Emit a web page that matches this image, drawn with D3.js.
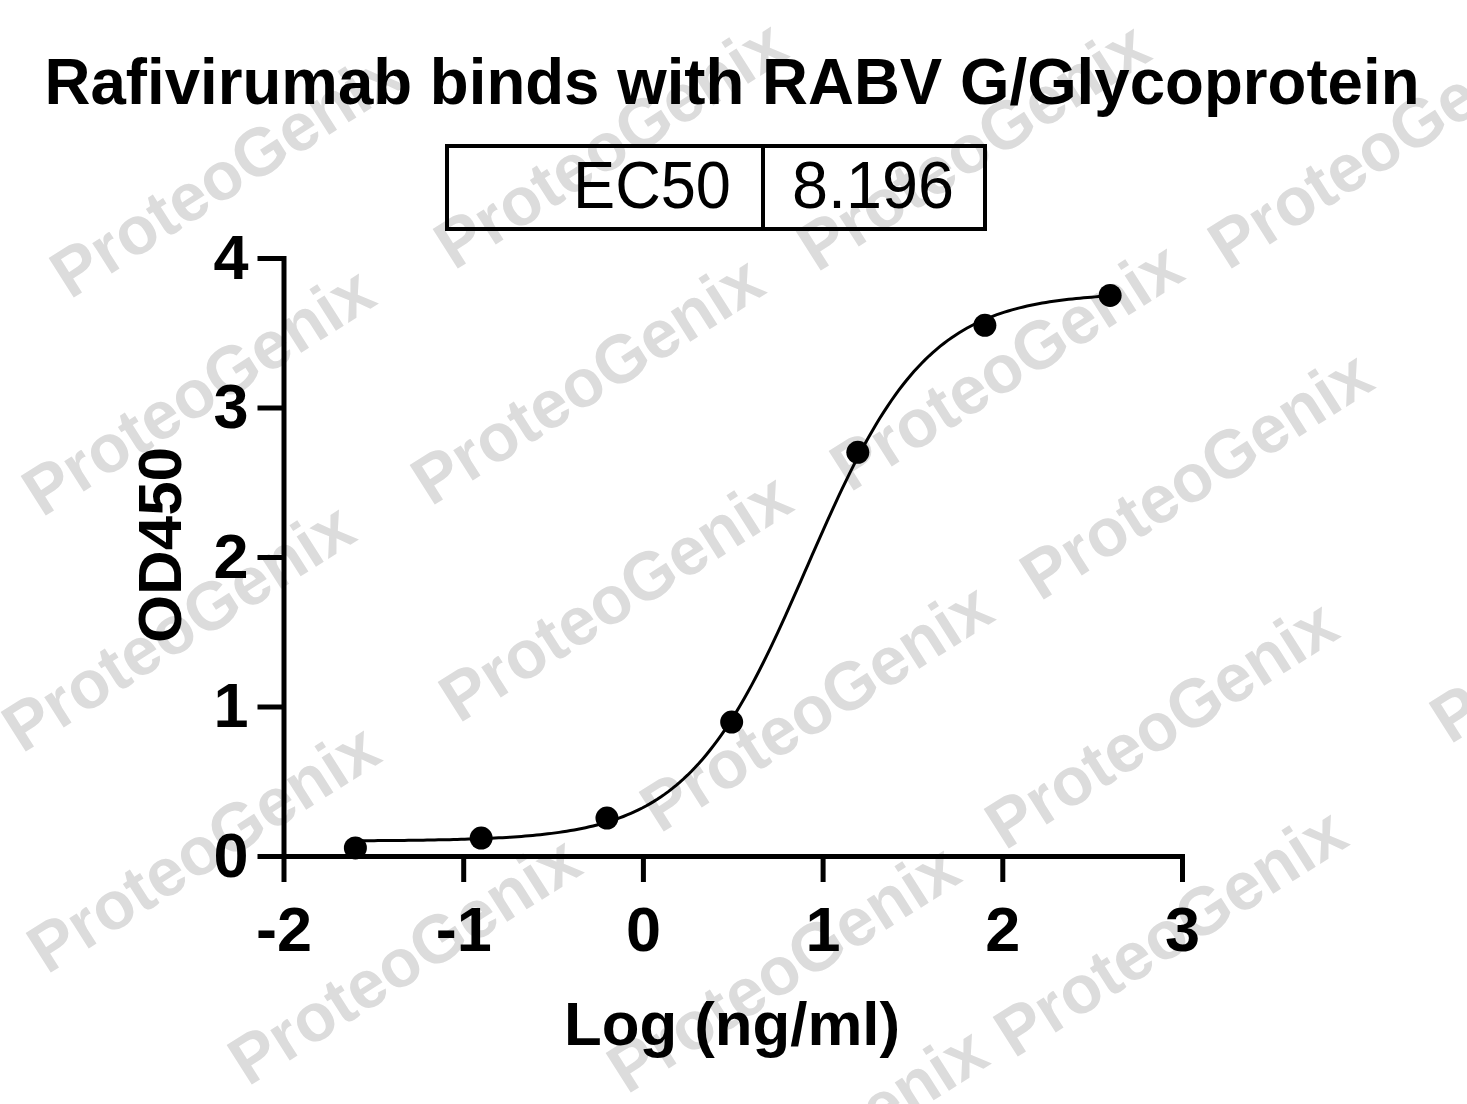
<!DOCTYPE html>
<html>
<head>
<meta charset="utf-8">
<script src="https://cdn.jsdelivr.net/npm/d3@7"></script>
<style>
  html, body { margin: 0; padding: 0; background: #fff; }
  svg { display: block; }
  text { font-family: "Liberation Sans", Arial, sans-serif; }
</style>
</head>
<body>
<svg id="chart" width="1467" height="1104"></svg>
<script>
// measured data: log10 concentration (ng/ml) vs OD450
var logConc = [-1.6, -0.9, -0.2, 0.494, 1.196, 1.903, 2.6];
var od450 = [0.054, 0.12, 0.254, 0.896, 2.70, 3.55, 3.75];

// fitted 4PL curve
var ec50 = 8.196;
var fitBottom = 0.10;
var fitTop = 3.77;
var fitHill = 1.3;

var xTicks = [-2, -1, 0, 1, 2, 3];
var yTicks = [0, 1, 2, 3, 4];

var title = "Rafivirumab binds with RABV G/Glycoprotein";
var xLabel = "Log (ng/ml)";
var yLabel = "OD450";
var tableCells = ["EC50", ec50.toFixed(3)];

// watermark anchors (start of each "ProteoGenix")
var watermarks = [
  [70, 300], [454, 271], [817, 273], [1228, 271],
  [42, 518], [431, 507], [850, 493], [1040, 602],
  [22, 754], [459, 724], [660, 834], [1005, 851], [1450, 745],
  [47, 975], [248, 1087], [627, 1095], [1014, 1059], [655, 1278]
];

var svg = d3.select("#chart");

svg.append("rect").attr("width", 1467).attr("height", 1104).attr("fill", "#fff");

// watermark layer
var wm = svg.append("g");
wm.selectAll("text")
  .data(watermarks)
  .enter().append("text")
    .attr("transform", function(d) { return "translate(" + d[0] + "," + d[1] + ") rotate(-32.5)"; })
    .attr("font-family", "'Open Sans', 'DejaVu Sans', sans-serif")
    .attr("font-weight", 700)
    .attr("font-size", 68)
    .attr("textLength", 400)
    .attr("lengthAdjust", "spacingAndGlyphs")
    .attr("fill", "#dcdcdc")
    .text("ProteoGenix");

var x = d3.scaleLinear().domain([-2, 3]).range([283.5, 1182]);
var y = d3.scaleLinear().domain([0, 4]).range([856, 258]);

// title
svg.append("text")
  .attr("x", 732).attr("y", 104)
  .attr("text-anchor", "middle")
  .attr("font-weight", "bold")
  .attr("font-size", 65)
  .attr("textLength", 1375)
  .attr("lengthAdjust", "spacingAndGlyphs")
  .text(title);

// EC50 table
var tbl = svg.append("g");
tbl.append("rect")
  .attr("x", 447).attr("y", 146).attr("width", 538).attr("height", 83)
  .attr("fill", "none").attr("stroke", "#000").attr("stroke-width", 4);
tbl.append("line")
  .attr("x1", 763).attr("x2", 763).attr("y1", 146).attr("y2", 229)
  .attr("stroke", "#000").attr("stroke-width", 4);
tbl.append("text")
  .attr("x", 731).attr("y", 208)
  .attr("text-anchor", "end")
  .attr("font-size", 67)
  .attr("textLength", 158)
  .attr("lengthAdjust", "spacingAndGlyphs")
  .text(tableCells[0]);
tbl.append("text")
  .attr("x", 873).attr("y", 208)
  .attr("text-anchor", "middle")
  .attr("font-size", 67)
  .attr("textLength", 162)
  .attr("lengthAdjust", "spacingAndGlyphs")
  .text(tableCells[1]);

// axes
var xAxis = svg.append("g")
  .attr("transform", "translate(0," + y(0) + ")")
  .call(d3.axisBottom(x).tickValues(xTicks).tickSize(26).tickSizeOuter(0).tickPadding(24)
    .tickFormat(function(d) { return d < 0 ? "-" + Math.abs(d) : d; }));

var yAxis = svg.append("g")
  .attr("transform", "translate(" + x(-2) + ",0)")
  .call(d3.axisLeft(y).tickValues(yTicks).tickSize(26).tickSizeOuter(0).tickPadding(9)
    .tickFormat(d3.format("d")));

[xAxis, yAxis].forEach(function(g) {
  g.select(".domain").attr("stroke", "#000").attr("stroke-width", 5).attr("stroke-linecap", "square");
  g.selectAll(".tick line").attr("stroke", "#000").attr("stroke-width", 5);
  g.selectAll(".tick text")
    .attr("fill", "#000")
    .attr("font-family", "'Liberation Sans', Arial, sans-serif")
    .attr("font-weight", "bold")
    .attr("font-size", 63);
});

// axis titles
svg.append("text")
  .attr("x", 732).attr("y", 1045)
  .attr("text-anchor", "middle")
  .attr("font-weight", "bold")
  .attr("font-size", 62)
  .attr("textLength", 336)
  .attr("lengthAdjust", "spacingAndGlyphs")
  .text(xLabel);

svg.append("text")
  .attr("transform", "translate(181,545) rotate(-90)")
  .attr("text-anchor", "middle")
  .attr("font-weight", "bold")
  .attr("font-size", 62)
  .attr("textLength", 196)
  .attr("lengthAdjust", "spacingAndGlyphs")
  .text(yLabel);

// fitted curve
var logEC50 = Math.log10(ec50);
function fit(v) {
  return fitBottom + (fitTop - fitBottom) / (1 + Math.pow(10, (logEC50 - v) * fitHill));
}
var xs = d3.range(0, 201).map(function(i) {
  return logConc[0] + (logConc[logConc.length - 1] - logConc[0]) * i / 200;
});
var line = d3.line()
  .x(function(d) { return x(d); })
  .y(function(d) { return y(fit(d)); });

svg.append("path")
  .datum(xs)
  .attr("d", line)
  .attr("fill", "none")
  .attr("stroke", "#000")
  .attr("stroke-width", 3);

// points
var pts = logConc.map(function(c, i) { return { x: c, y: od450[i] }; });
svg.append("g").selectAll("circle")
  .data(pts)
  .enter().append("circle")
    .attr("cx", function(d) { return x(d.x); })
    .attr("cy", function(d) { return y(d.y); })
    .attr("r", 11.5)
    .attr("fill", "#000");
</script>
</body>
</html>
